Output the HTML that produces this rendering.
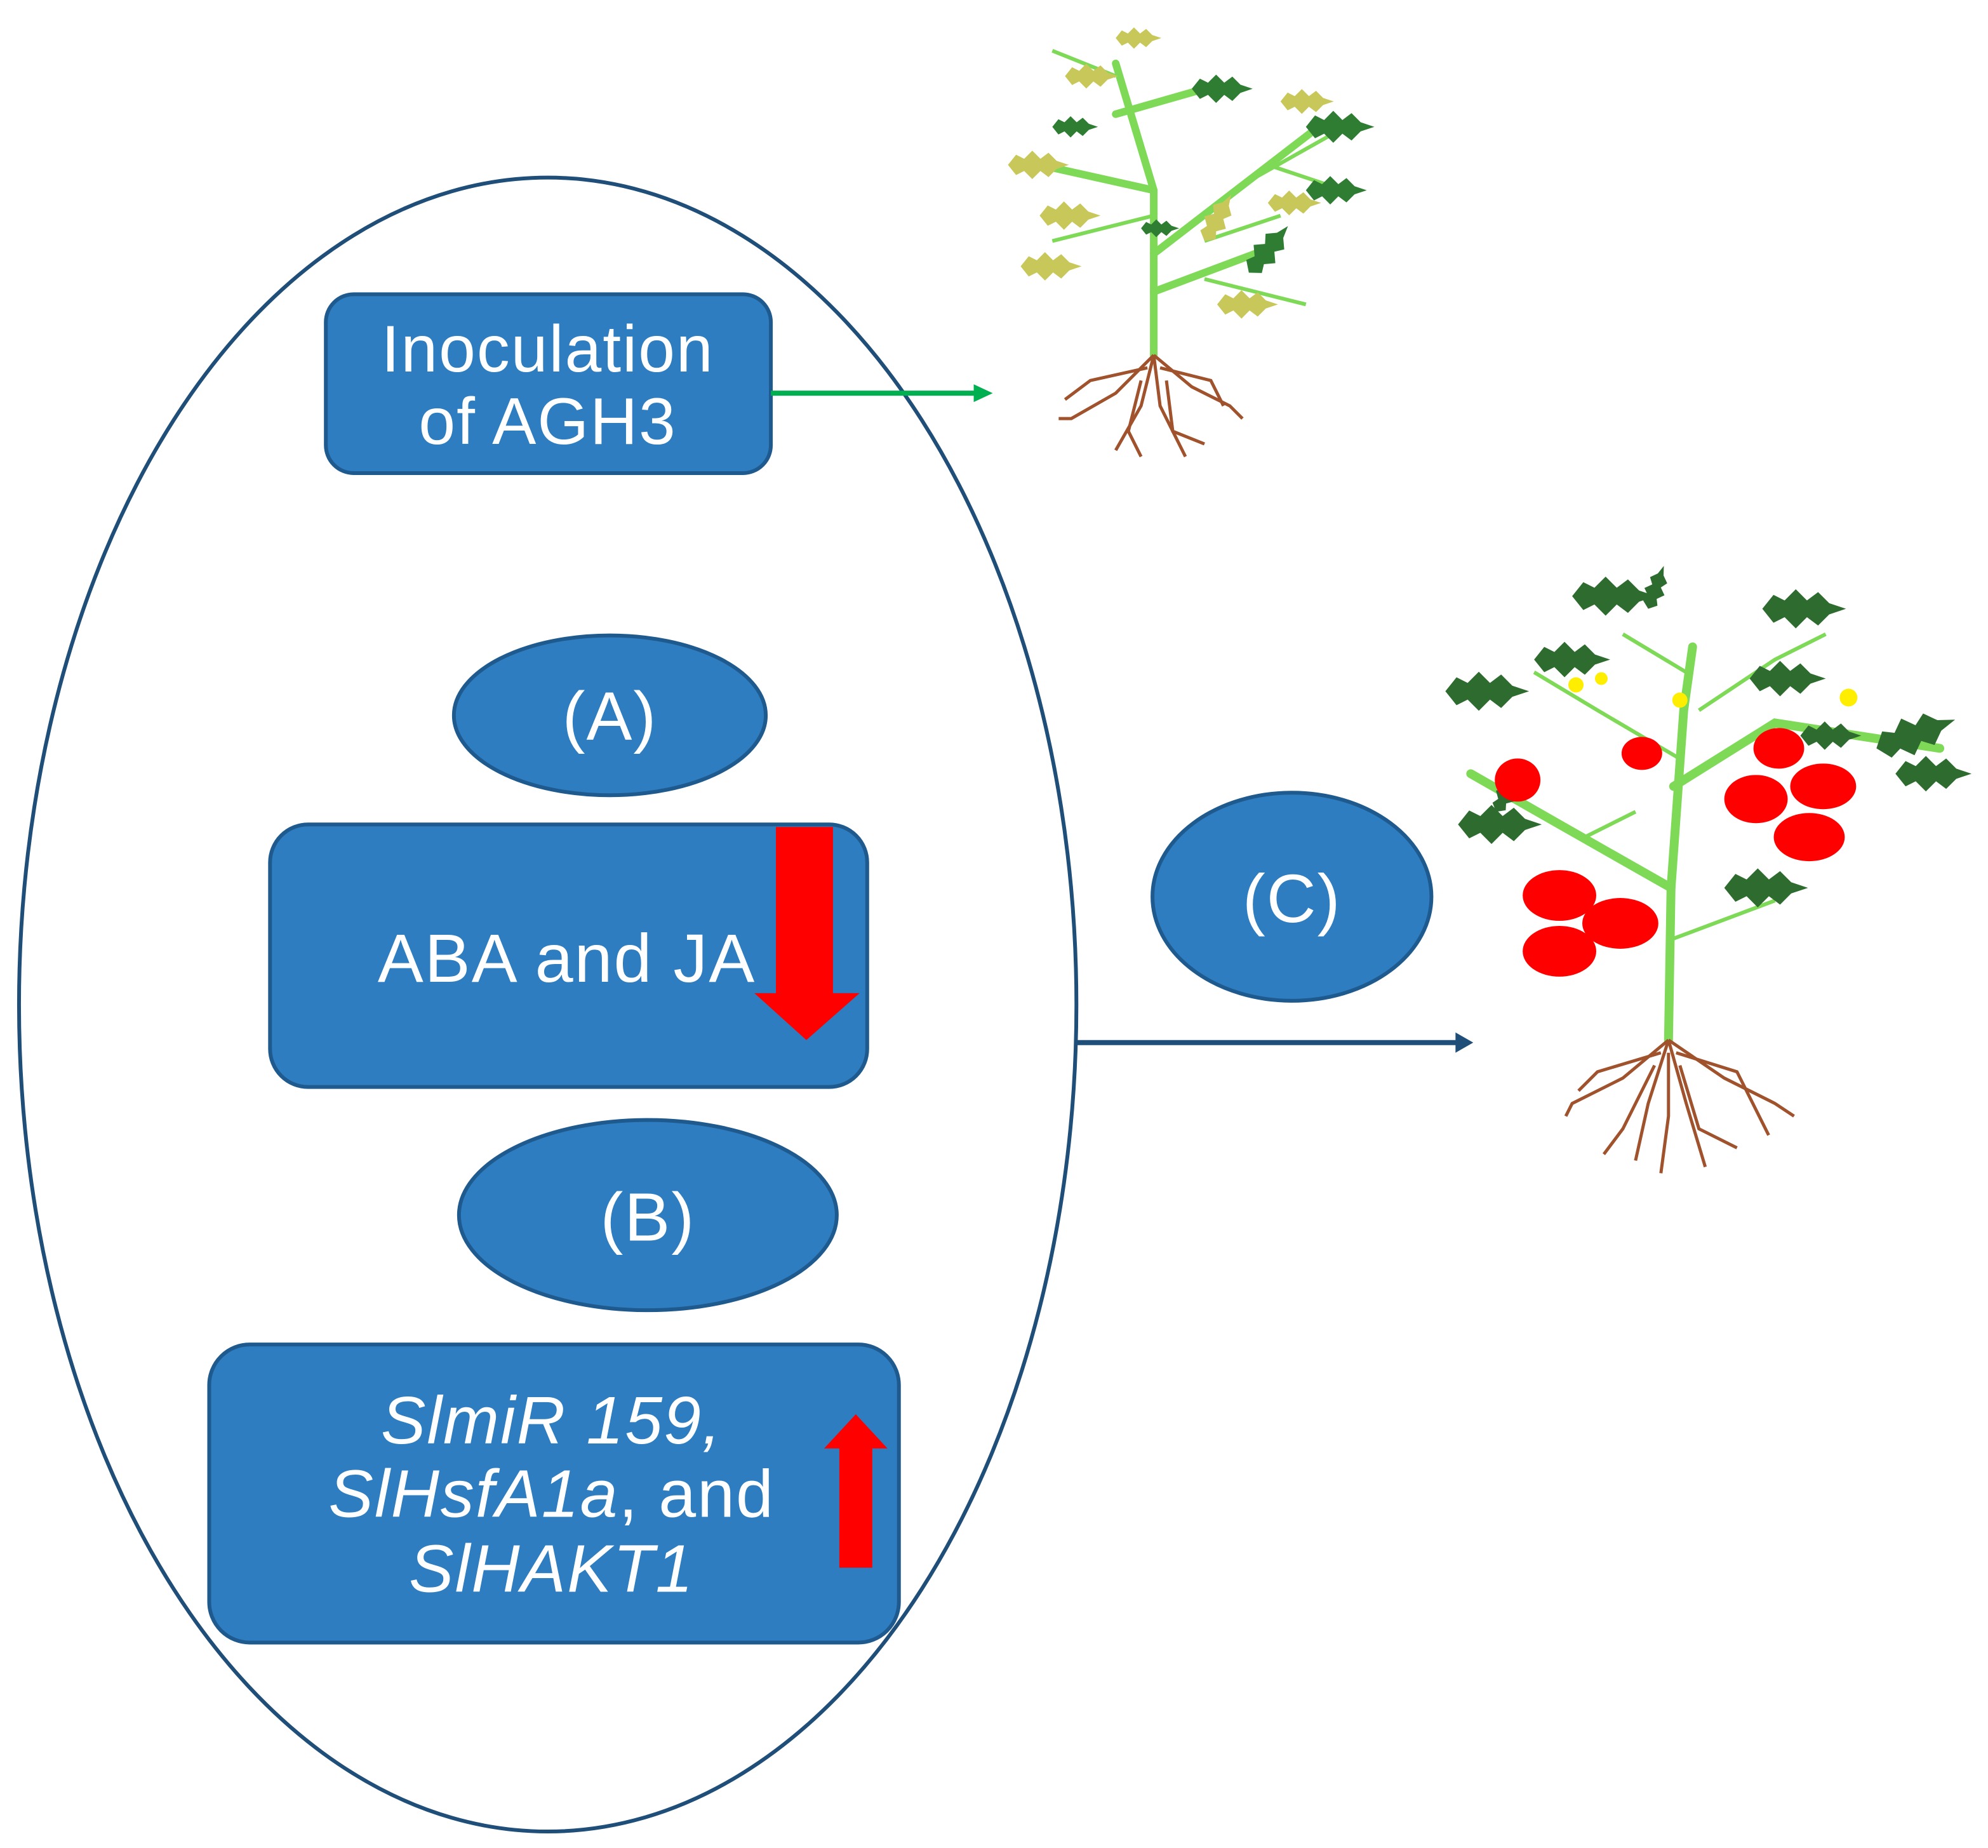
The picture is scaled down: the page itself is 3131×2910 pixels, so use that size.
<!DOCTYPE html>
<html><head><meta charset="utf-8"><style>
html,body{margin:0;padding:0;background:#fff;}
svg{display:block;}
text{font-family:"Liberation Sans",sans-serif;fill:#fff;letter-spacing:1px;}
</style></head><body>
<svg width="3131" height="2910" viewBox="0 0 1568 1457" preserveAspectRatio="none" xmlns="http://www.w3.org/2000/svg">
<defs>
<g id="leaf"><path d="M0,0 L8,-10 L16,-6 L24,-14 L32,-6 L40,-12 L48,-4 L60,0 L48,4 L40,12 L32,6 L24,14 L16,6 L8,10 Z"/></g>
</defs>
<!-- big ellipse -->
<ellipse cx="432" cy="792" rx="417" ry="652" fill="none" stroke="#1F4E79" stroke-width="3"/>
<!-- Inoculation box -->
<rect x="257" y="232" width="351" height="141" rx="22" fill="#2E7DC0" stroke="#1F5A8F" stroke-width="3"/>
<text x="432" y="293" font-size="52" text-anchor="middle">Inoculation</text>
<text x="432" y="350" font-size="52" text-anchor="middle">of AGH3</text>
<!-- green arrow -->
<line x1="608" y1="310" x2="770" y2="310" stroke="#00B050" stroke-width="4"/>
<polygon points="768,303 783,310 768,317" fill="#00B050"/>
<!-- (A) -->
<ellipse cx="481" cy="564" rx="123" ry="63" fill="#2E7DC0" stroke="#1F5A8F" stroke-width="3"/>
<text x="481" y="583" font-size="54" text-anchor="middle">(A)</text>
<!-- ABA box -->
<rect x="213" y="650" width="471" height="207" rx="30" fill="#2E7DC0" stroke="#1F5A8F" stroke-width="3"/>
<text x="447" y="774" font-size="54" text-anchor="middle">ABA and JA</text>
<polygon points="612,652 657,652 657,783 678,783 636,820 595,783 612,783" fill="#FF0000"/>
<!-- (B) -->
<ellipse cx="511" cy="958" rx="149" ry="75" fill="#2E7DC0" stroke="#1F5A8F" stroke-width="3"/>
<text x="511" y="978" font-size="54" text-anchor="middle">(B)</text>
<!-- gene box -->
<rect x="165" y="1060" width="544" height="235" rx="32" fill="#2E7DC0" stroke="#1F5A8F" stroke-width="3"/>
<text x="435" y="1138" font-size="53" text-anchor="middle" font-style="italic">SlmiR 159,</text>
<text x="435" y="1196" font-size="53" text-anchor="middle"><tspan font-style="italic">SlHsfA1a</tspan>, and</text>
<text x="435" y="1255" font-size="53" text-anchor="middle" font-style="italic">SlHAKT1</text>
<polygon points="662,1236 688,1236 688,1142 700,1142 675,1115 650,1142 662,1142" fill="#FF0000"/>
<!-- (C) -->
<ellipse cx="1019" cy="707" rx="110" ry="82" fill="#2E7DC0" stroke="#1F5A8F" stroke-width="3"/>
<text x="1019" y="727" font-size="54" text-anchor="middle">(C)</text>
<!-- blue arrow -->
<line x1="848" y1="822" x2="1150" y2="822" stroke="#1F4E79" stroke-width="4"/>
<polygon points="1148,814 1162,822 1148,830" fill="#1F4E79"/>

<!-- plant 1 -->
<g stroke="#7ED957" stroke-width="6" fill="none" stroke-linecap="round">
<path d="M910,280 L910,150 L880,50"/>
<path d="M910,200 L1040,100"/>
<path d="M910,150 L820,130"/>
<path d="M910,230 L990,200"/>
<path d="M880,90 L950,70"/>
</g>
<g stroke="#7ED957" stroke-width="3" fill="none">
<path d="M910,170 L830,190"/><path d="M990,140 L1070,95"/><path d="M1000,130 L1060,150"/><path d="M880,60 L830,40"/><path d="M950,190 L1010,170"/><path d="M950,220 L1030,240"/>
</g>
<g fill="#C8C85A">
<use href="#leaf" transform="translate(795,130) scale(0.8)"/><use href="#leaf" transform="translate(805,210) scale(0.8)"/><use href="#leaf" transform="translate(840,60) scale(0.7)"/><use href="#leaf" transform="translate(960,240) scale(0.8)"/><use href="#leaf" transform="translate(1000,160) scale(0.7)"/><use href="#leaf" transform="translate(820,170) scale(0.8)"/><use href="#leaf" transform="translate(950,190) rotate(-60) scale(0.7)"/><use href="#leaf" transform="translate(1010,80) scale(0.7)"/><use href="#leaf" transform="translate(880,30) scale(0.6)"/>
</g>
<g fill="#2E7D32">
<use href="#leaf" transform="translate(1030,100) scale(0.9)"/><use href="#leaf" transform="translate(1030,150) scale(0.8)"/><use href="#leaf" transform="translate(940,70) scale(0.8)"/><use href="#leaf" transform="translate(985,215) rotate(-50) scale(0.8)"/><use href="#leaf" transform="translate(830,100) scale(0.6)"/><use href="#leaf" transform="translate(900,180) scale(0.5)"/>
</g>
<g stroke="#A0522D" stroke-width="2.5" fill="none">
<path d="M910,280 L880,310 L845,330 L835,330"/><path d="M910,280 L900,320 L880,355"/><path d="M910,280 L915,320 L935,360"/><path d="M910,280 L940,305 L970,320 L980,330"/><path d="M905,290 L860,300 L840,315"/><path d="M915,290 L955,300 L965,320"/><path d="M900,300 L890,340 L900,360"/><path d="M920,300 L925,340 L950,350"/>
</g>

<!-- plant 2 -->
<g stroke="#7ED957" stroke-width="7" fill="none" stroke-linecap="round">
<path d="M1316,820 L1318,700 L1328,560 L1335,510"/>
<path d="M1318,700 L1230,650 L1160,610"/>
<path d="M1320,620 L1400,570 L1530,590"/>
</g>
<g stroke="#7ED957" stroke-width="3" fill="none">
<path d="M1328,600 L1260,560 L1210,530"/><path d="M1330,530 L1280,500"/><path d="M1340,560 L1400,520 L1440,500"/><path d="M1320,740 L1400,710"/><path d="M1250,660 L1290,640"/>
</g>
<g fill="#2E6B2E">
<use href="#leaf" transform="translate(1140,545) scale(1.1)"/><use href="#leaf" transform="translate(1150,650) scale(1.1)"/><use href="#leaf" transform="translate(1240,470) scale(1.1)"/><use href="#leaf" transform="translate(1390,480) scale(1.1)"/><use href="#leaf" transform="translate(1210,520) scale(1)"/><use href="#leaf" transform="translate(1495,610) scale(1)"/><use href="#leaf" transform="translate(1480,590) rotate(-20) scale(1.1)"/><use href="#leaf" transform="translate(1360,700) scale(1.1)"/><use href="#leaf" transform="translate(1380,535) scale(1)"/><use href="#leaf" transform="translate(1300,480) rotate(-70) scale(0.6)"/><use href="#leaf" transform="translate(1180,640) rotate(-60) scale(0.6)"/><use href="#leaf" transform="translate(1420,580) scale(0.8)"/>
</g>
<g fill="#FFEE00">
<circle cx="1243" cy="540" r="6"/><circle cx="1325" cy="552" r="6"/><circle cx="1458" cy="550" r="7"/><circle cx="1263" cy="535" r="5"/>
</g>
<g fill="#FF0000">
<ellipse cx="1197" cy="615" rx="18" ry="17"/><ellipse cx="1295" cy="594" rx="16" ry="13"/><ellipse cx="1403" cy="590" rx="20" ry="16"/><ellipse cx="1385" cy="630" rx="25" ry="19"/><ellipse cx="1438" cy="620" rx="26" ry="18"/><ellipse cx="1427" cy="660" rx="28" ry="19"/><ellipse cx="1230" cy="706" rx="29" ry="20"/><ellipse cx="1278" cy="728" rx="30" ry="20"/><ellipse cx="1230" cy="750" rx="29" ry="20"/>
</g>
<g stroke="#A0522D" stroke-width="2.5" fill="none">
<path d="M1316,820 L1280,850 L1240,870 L1235,880"/><path d="M1316,820 L1300,870 L1290,915"/><path d="M1316,820 L1330,870 L1345,920"/><path d="M1316,820 L1360,850 L1400,870 L1415,880"/><path d="M1310,830 L1260,845 L1245,860"/><path d="M1322,830 L1370,845 L1395,895"/><path d="M1305,840 L1280,890 L1265,910"/><path d="M1325,840 L1340,890 L1370,905"/><path d="M1316,830 L1316,880 L1310,925"/>
</g>
</svg>
</body></html>
